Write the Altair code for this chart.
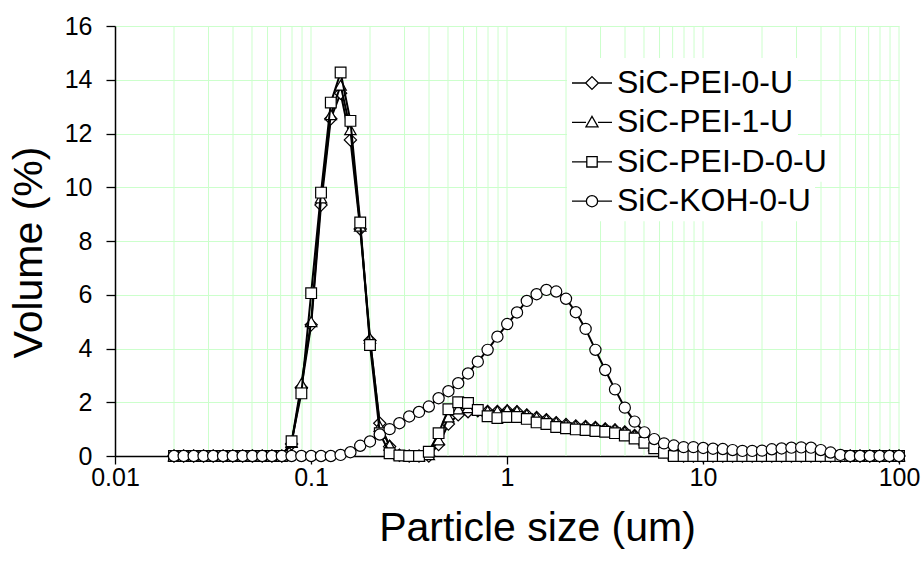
import altair as alt
import pandas as pd

# Particle size classes (um)
sizes = [0.0200, 0.0224, 0.0252, 0.0283, 0.0317, 0.0356, 0.0399, 0.0448, 0.0502, 0.0564,
         0.0632, 0.0710, 0.0796, 0.0893, 0.1002, 0.1125, 0.1262, 0.1416, 0.1589, 0.1783,
         0.2000, 0.2244, 0.2518, 0.2825, 0.3170, 0.3557, 0.3991, 0.4477, 0.5024, 0.5637,
         0.6325, 0.7096, 0.7962, 0.8934, 1.0024, 1.1247, 1.2619, 1.4159, 1.5887, 1.7825,
         2.0000, 2.2440, 2.5179, 2.8251, 3.1698, 3.5566, 3.9905, 4.4774, 5.0238, 5.6368,
         6.3246, 7.0963, 7.9621, 8.9337, 10.024, 11.247, 12.619, 14.159, 15.887, 17.825,
         20.000, 22.440, 25.179, 28.251, 31.698, 35.566, 39.905, 44.774, 50.238, 56.368,
         63.246, 70.963, 79.621, 89.337, 100.0]

pei_0 = [0, 0, 0, 0, 0, 0, 0, 0, 0, 0,
         0, 0, 0.45, 2.55, 4.88, 9.34, 12.55, 13.5, 11.76, 8.45,
         4.3, 1.22, 0.35, 0.03, 0, 0, 0, 0.43, 1.19, 1.53,
         1.65, 1.68, 1.66, 1.66, 1.68, 1.65, 1.53, 1.43, 1.35, 1.24,
         1.17, 1.12, 1.1, 1.06, 1.01, 0.97, 0.89, 0.76, 0.58, 0.36,
         0.17, 0.04, 0, 0, 0, 0, 0, 0, 0, 0,
         0, 0, 0, 0, 0, 0, 0, 0, 0, 0,
         0, 0, 0, 0, 0]

pei_1 = [0, 0, 0, 0, 0, 0, 0, 0, 0, 0,
         0, 0, 0.5, 2.7, 5.0, 9.6, 12.7, 13.8, 12.14, 8.55,
         4.38, 1.1, 0.4, 0.05, 0, 0, 0.05, 0.6, 1.45, 1.75,
         1.8, 1.72, 1.68, 1.68, 1.72, 1.68, 1.55, 1.45, 1.37, 1.26,
         1.18, 1.13, 1.12, 1.08, 1.03, 1.0, 0.91, 0.78, 0.6, 0.38,
         0.18, 0.05, 0, 0, 0, 0, 0, 0, 0, 0,
         0, 0, 0, 0, 0, 0, 0, 0, 0, 0,
         0, 0, 0, 0, 0]

pei_d0 = [0, 0, 0, 0, 0, 0, 0, 0, 0, 0,
          0, 0, 0.55, 2.33, 6.06, 9.8, 13.15, 14.27, 12.47, 8.69,
          4.13, 0.85, 0.1, 0.02, 0, 0, 0.16, 0.85, 1.74, 2.0,
          1.97, 1.71, 1.48, 1.41, 1.45, 1.45, 1.38, 1.25, 1.19, 1.08,
          1.03, 0.99, 0.97, 0.93, 0.9, 0.85, 0.76, 0.65, 0.49, 0.29,
          0.12, 0, 0, 0, 0, 0, 0, 0, 0, 0,
          0, 0, 0, 0, 0, 0, 0, 0, 0, 0,
          0, 0, 0, 0, 0]

koh_0 = [0, 0, 0, 0, 0, 0, 0, 0, 0, 0,
         0, 0, 0, 0, 0, 0, 0, 0.04, 0.14, 0.38,
         0.54, 0.8, 1.0, 1.22, 1.47, 1.64, 1.84, 2.15, 2.41, 2.71,
         3.07, 3.51, 3.95, 4.44, 4.91, 5.34, 5.77, 6.02, 6.18, 6.12,
         5.85, 5.35, 4.73, 3.95, 3.2, 2.48, 1.8, 1.28, 0.88, 0.63,
         0.47, 0.39, 0.33, 0.33, 0.3, 0.27, 0.26, 0.22, 0.19, 0.19,
         0.2, 0.25, 0.28, 0.31, 0.32, 0.31, 0.22, 0.13, 0.04, 0,
         0, 0, 0, 0, 0]

series_names = ["SiC-PEI-0-U", "SiC-PEI-1-U", "SiC-PEI-D-0-U", "SiC-KOH-0-U"]
series_values = [pei_0, pei_1, pei_d0, koh_0]
marker_shapes = ["diamond", "triangle-up", "square", "circle"]
marker_sizes = [150, 130, 115, 125]

x_ticks = [0.01, 0.1, 1, 10, 100]
y_ticks = [0, 2, 4, 6, 8, 10, 12, 14, 16]
grid_x = [0.02, 0.03, 0.04, 0.05, 0.06, 0.07, 0.08, 0.09,
          0.1, 0.2, 0.3, 0.4, 0.5, 0.6, 0.7, 0.8, 0.9,
          1, 2, 3, 4, 5, 6, 7, 8, 9,
          10, 20, 30, 40, 50, 60, 70, 80, 90, 100]

# legend key glyphs: a short line with the series marker in the middle
legend_paths = [
    "M-1,0L-0.32,0M0.32,0L1,0M0,-0.32L0.32,0L0,0.32L-0.32,0Z",
    "M-1,0L-0.3,0M0.3,0L1,0M0,-0.3L0.3,0.22L-0.3,0.22Z",
    "M-1,0L-0.26,0M0.26,0L1,0M-0.26,-0.26L0.26,-0.26L0.26,0.26L-0.26,0.26Z",
    "M-1,0L-0.28,0M0.28,0L1,0M0.28,0A0.28,0.28 0 1 1 -0.28,0A0.28,0.28 0 1 1 0.28,0Z",
]

for v in series_values:
    assert len(v) == len(sizes)

rows = []
for name, vals in zip(series_names, series_values):
    for s, v in zip(sizes, vals):
        rows.append({"series": name, "size": s, "volume": v})
df = pd.DataFrame(rows)

FONT = "Liberation Sans"
GRID = "#CCFFCC"
LEG_X = 452
LEG_Y0 = 32
LEG_STEP = 39.4

x_enc = alt.X(
    "size:Q",
    scale=alt.Scale(type="log", domain=[0.01, 100]),
    axis=alt.Axis(
        values=x_ticks, format="~g", grid=False,
        domainColor="black", domainWidth=1.5,
        tickColor="black", tickSize=8, tickWidth=1.3,
        labelFont=FONT, labelFontSize=25, labelColor="black", labelPadding=1,
        labelFlush=False, labelOverlap=False,
        title="Particle size (um)", titleFont=FONT, titleFontSize=41,
        titleFontWeight="normal", titleColor="black",
        titleX=422, titleY=84, titleAlign="center", titleBaseline="alphabetic",
        titleAngle=0,
    ),
)
y_enc = alt.Y(
    "volume:Q",
    scale=alt.Scale(domain=[0, 16], nice=False),
    axis=alt.Axis(
        values=y_ticks, grid=True, gridColor=GRID, gridWidth=1,
        domainColor="black", domainWidth=1.5,
        tickColor="black", tickSize=9, tickWidth=1.3,
        labelFont=FONT, labelFontSize=25, labelColor="black", labelPadding=14,
        title="Volume (%)", titleFont=FONT, titleFontSize=41,
        titleFontWeight="normal", titleColor="black",
        titleX=-74, titleY=226, titleAngle=270, titleAlign="center",
        titleBaseline="alphabetic",
    ),
)


def key_legend(i):
    return alt.Legend(
        title=None, orient="none", legendX=LEG_X, legendY=LEG_Y0 + i * LEG_STEP,
        symbolType=legend_paths[i], symbolSize=1600,
        symbolStrokeColor="black", symbolFillColor="white", symbolStrokeWidth=1.3,
        symbolOpacity=1,
        labelFont=FONT, labelFontSize=32, labelColor="black",
        labelOffset=4, labelLimit=400,
        padding=4, fillColor="white",
    )


grid_layer = alt.Chart(pd.DataFrame({"size": grid_x})).mark_rule(
    color=GRID, strokeWidth=1
).encode(x=x_enc)

layers = [grid_layer]
base = alt.Chart(df)
# each series' line carries a one-entry legend through a different (constant) channel
legend_channels = [
    lambda i: alt.Color("series:N", scale=alt.Scale(domain=[series_names[i]], range=["black"]),
                        legend=key_legend(i)),
    lambda i: alt.StrokeDash("series:N", scale=alt.Scale(domain=[series_names[i]], range=[[1, 0]]),
                             legend=key_legend(i)),
    lambda i: alt.Opacity("series:N", scale=alt.Scale(domain=[series_names[i]], range=[1]),
                          legend=key_legend(i)),
    lambda i: alt.Stroke("series:N", scale=alt.Scale(domain=[series_names[i]], range=["black"]),
                         legend=key_legend(i)),
]
channel_names = ["color", "strokeDash", "opacity", "stroke"]

for i, (name, shp, sz) in enumerate(zip(series_names, marker_shapes, marker_sizes)):
    sub = base.transform_filter(alt.datum.series == name)
    enc = {channel_names[i]: legend_channels[i](i)}
    layers.append(
        sub.mark_line(color="black", strokeWidth=2).encode(x=x_enc, y=y_enc, **enc)
    )
    layers.append(
        sub.mark_point(shape=shp, size=sz, filled=True, fill="white",
                       stroke="black", strokeWidth=1.2, opacity=1)
        .encode(x=x_enc, y=y_enc)
    )

chart = (
    alt.layer(*layers)
    .properties(
        width=784, height=430,
        padding={"left": 115, "top": 26, "right": 25, "bottom": 110},
        autosize=alt.AutoSizeParams(type="none"),
        background="white",
    )
    .configure_view(stroke="transparent")
)

chart.save("out.html", embed_options={"renderer": "svg", "actions": False})
